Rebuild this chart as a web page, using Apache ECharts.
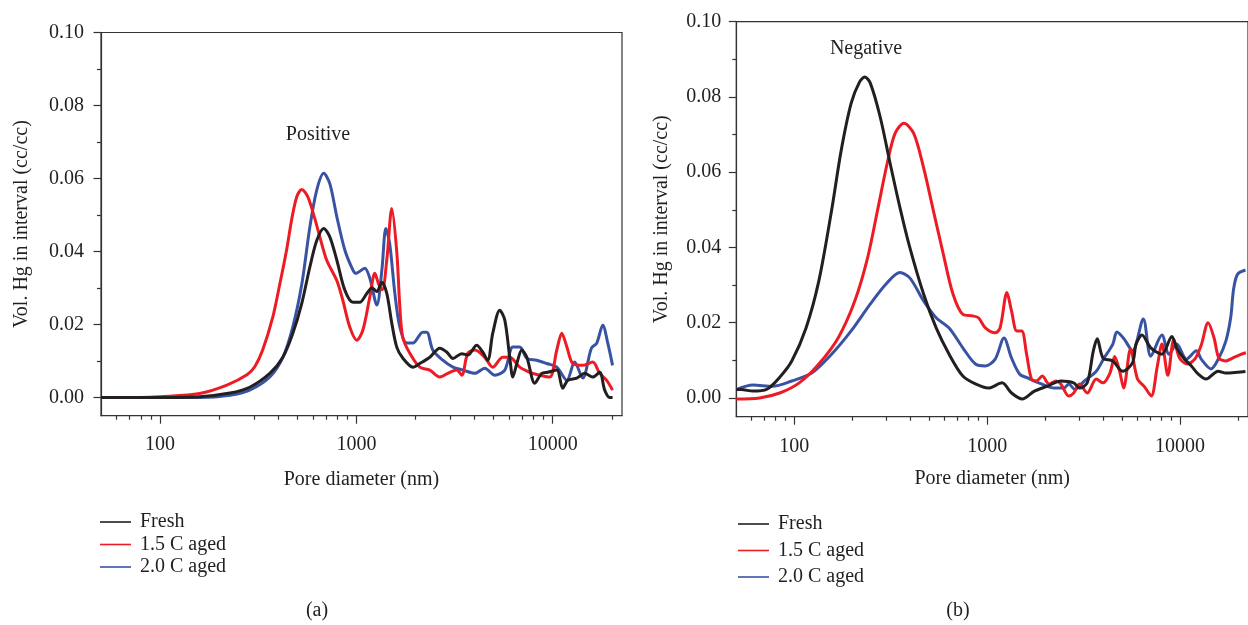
<!DOCTYPE html>
<html><head><meta charset="utf-8">
<script src="https://cdn.jsdelivr.net/npm/echarts@6/dist/echarts.min.js"></script>
<style>html,body{margin:0;padding:0;background:#fff}#c{width:1248px;height:625px}</style>
</head><body><div id="c"></div>
<script>
// ---------- data (pore diameter nm, Vol. Hg cc/cc) ----------
const seriesNames = ['Fresh', '1.5 C aged', '2.0 C aged'];

const freshPositive = [[50,0],[100,0],[159,0.0002],[227,0.0012],[286,0.0028],[362,0.0066],[422,0.011],[474,0.0175],[527,0.0258],[579,0.0357],[628,0.043],[682,0.0463],[732,0.044],[795,0.0376],[873,0.0294],[960,0.0261],[1040,0.0261],[1130,0.0285],[1199,0.030],[1271,0.029],[1348,0.0316],[1428,0.0285],[1515,0.0203],[1605,0.0138],[1722,0.0108],[1941,0.0083],[2103,0.0093],[2365,0.011],[2659,0.0135],[2892,0.0124],[3103,0.0107],[3441,0.012],[3691,0.0116],[4100,0.0143],[4402,0.0124],[4668,0.0102],[4950,0.0176],[5373,0.0239],[5700,0.0212],[6041,0.011],[6266,0.0056],[6565,0.0093],[6960,0.013],[7380,0.011],[8110,0.0039],[8796,0.0066],[9440,0.0069],[10490,0.0075],[11250,0.0025],[11930,0.0047],[13270,0.0053],[14560,0.0066],[15990,0.0056],[17350,0.0069],[18400,0.002],[19500,0],[20180,0]];

const aged15Positive = [[50,0],[79,0],[100,0.0002],[159,0.0011],[219,0.0034],[277,0.0062],[304,0.0085],[333,0.013],[375,0.022],[407,0.031],[441,0.0404],[469,0.049],[497,0.055],[527,0.057],[565,0.055],[614,0.049],[651,0.044],[706,0.0376],[795,0.032],[852,0.0267],[925,0.0193],[1005,0.0157],[1078,0.0184],[1170,0.0275],[1241,0.034],[1300,0.031],[1355,0.0295],[1430,0.038],[1515,0.0518],[1605,0.040],[1664,0.025],[1722,0.0165],[1871,0.0121],[2103,0.0083],[2365,0.0075],[2659,0.0056],[2990,0.0069],[3243,0.0075],[3441,0.0061],[3691,0.0121],[4008,0.013],[4505,0.011],[4950,0.0083],[5565,0.011],[6041,0.011],[6792,0.0083],[7637,0.0069],[8587,0.0061],[9655,0.0056],[10490,0.013],[11120,0.0176],[11800,0.0139],[12650,0.0093],[14220,0.0088],[15990,0.0097],[17350,0.0066],[18830,0.0047],[20180,0.002]];

const aged20Positive = [[50,0],[100,0],[159,0],[227,0.0006],[286,0.002],[362,0.0056],[422,0.011],[474,0.0193],[527,0.031],[579,0.0466],[628,0.0568],[682,0.0614],[732,0.0586],[795,0.0495],[873,0.0404],[960,0.0349],[994,0.034],[1103,0.0354],[1170,0.0327],[1271,0.0253],[1348,0.0349],[1413,0.0463],[1479,0.042],[1570,0.0285],[1664,0.0193],[1807,0.0149],[1941,0.0149],[2177,0.0179],[2283,0.0179],[2449,0.013],[2754,0.0102],[3103,0.0083],[3489,0.0075],[4008,0.0066],[4505,0.008],[5070,0.0061],[5700,0.0075],[6266,0.0138],[6792,0.0138],[7380,0.0107],[8300,0.0102],[9330,0.0093],[10490,0.0083],[11800,0.0047],[12930,0.0097],[14220,0.0053],[15740,0.0135],[16770,0.0149],[17990,0.0198],[19080,0.0149],[20180,0.0088]];

const freshNegative = [[50,0.0022],[53,0.0022],[61,0.0018],[72,0.0023],[84,0.0055],[97,0.0098],[115,0.0186],[134,0.0311],[156,0.0498],[175,0.0658],[197,0.0783],[218,0.084],[232,0.0853],[248,0.0836],[279,0.0746],[314,0.0623],[353,0.0506],[397,0.040],[468,0.0276],[544,0.0186],[635,0.0116],[748,0.0058],[870,0.0037],[1014,0.0026],[1195,0.004],[1338,0.0013],[1521,-0.0003],[1758,0.0018],[2049,0.0031],[2412,0.0045],[2811,0.004],[3016,0.0026],[3305,0.004],[3554,0.0125],[3724,0.0157],[3990,0.0106],[4487,0.0098],[5045,0.0071],[5673,0.0093],[5923,0.0143],[6353,0.0167],[7060,0.0133],[8065,0.0116],[9078,0.0163],[9617,0.0133],[10440,0.0106],[11465,0.0085],[12450,0.0063],[13680,0.005],[14850,0.0063],[15740,0.0071],[17300,0.0066],[19910,0.0068],[21870,0.007]];

const aged15Negative = [[50,-0.0003],[66,0],[84,0.0013],[106,0.004],[134,0.009],[169,0.016],[206,0.0258],[240,0.0373],[270,0.0498],[303,0.0623],[333,0.0703],[370,0.073],[416,0.0703],[468,0.0612],[526,0.0498],[592,0.0383],[665,0.0276],[748,0.0222],[841,0.0218],[902,0.0213],[979,0.0186],[1101,0.0173],[1167,0.0186],[1267,0.028],[1338,0.0231],[1425,0.0178],[1511,0.0178],[1602,0.0116],[1698,0.005],[1801,0.0045],[1932,0.0058],[2097,0.0037],[2276,0.0045],[2412,0.0037],[2650,0.0005],[2811,0.0013],[3016,0.0037],[3305,0.0013],[3681,0.005],[3990,0.004],[4335,0.0066],[4587,0.011],[4869,0.007],[5105,0.0026],[5543,0.013],[6022,0.005],[6537,0.003],[7097,0.0005],[7608,0.008],[8065,0.0143],[8656,0.006],[9290,0.0155],[9966,0.0105],[10940,0.009],[12020,0.0105],[12891,0.014],[14000,0.02],[15020,0.016],[15910,0.0106],[17300,0.0098],[18750,0.0106],[20580,0.0115],[21990,0.012]];

const aged20Negative = [[50,0.0022],[61,0.0034],[77,0.0031],[97,0.0045],[123,0.0066],[156,0.0116],[197,0.0178],[248,0.025],[303,0.0306],[353,0.0333],[397,0.0319],[468,0.0258],[544,0.0213],[635,0.0186],[748,0.0133],[870,0.009],[979,0.0085],[1101,0.0103],[1223,0.0159],[1338,0.0106],[1475,0.0063],[1621,0.0053],[1910,0.0037],[2223,0.0026],[2500,0.0026],[2651,0.0037],[2844,0.0023],[3198,0.0045],[3681,0.0071],[4042,0.0106],[4487,0.0143],[4708,0.0175],[5110,0.0158],[5675,0.0125],[6457,0.021],[7060,0.0111],[8065,0.0167],[8768,0.0116],[9617,0.0143],[10820,0.0103],[12160,0.0125],[12891,0.0103],[14495,0.0077],[15910,0.0106],[17300,0.0151],[18326,0.0213],[18990,0.029],[19910,0.0329],[21870,0.034]];

const xMajorTicks = [100, 1000, 10000];
const xMinorTicks = [60,70,80,90,200,300,400,500,600,700,800,900,2000,3000,4000,5000,6000,7000,8000,9000,20000];
const yMajorTicks = [0, 0.02, 0.04, 0.06, 0.08, 0.10];
const yMinorTicks = [0.01, 0.03, 0.05, 0.07, 0.09];

// ---------- styling ----------
const FONT = 'Liberation Serif';
const TXT = '#231f20';
const AX = '#333333';
const COLORS = ['#231f20', '#ed1c24', '#3953a4'];
const X_MIN = 50, X_MAX = 22540, Y_MIN = -0.005, Y_MAX = 0.10;

const grids = [
  { left: 101, top: 32.5, width: 521, height: 383.2 },
  { left: 736.3, top: 21.7, width: 521.5, height: 395 }
];

function xAxes(g, nameGap, labelMargin) {
  return [
    { type: 'log', logBase: 10, gridIndex: g, min: X_MIN, max: X_MAX, position: 'bottom',
      axisLine: { show: true, onZero: false, lineStyle: { color: AX, width: 1.2 } },
      axisTick: { show: true, inside: false, length: 8, customValues: xMajorTicks, lineStyle: { color: AX, width: 1.2 } },
      axisLabel: { customValues: xMajorTicks, margin: labelMargin, fontSize: 20, fontFamily: FONT, color: TXT,
        formatter: v => String(Math.round(v)) },
      splitLine: { show: false }, minorTick: { show: false },
      name: 'Pore diameter (nm)', nameLocation: 'middle', nameGap: nameGap,
      nameTextStyle: { fontSize: 20, fontFamily: FONT, color: TXT } },
    { type: 'log', logBase: 10, gridIndex: g, min: X_MIN, max: X_MAX, position: 'bottom',
      axisLine: { show: false, onZero: false },
      axisTick: { show: true, inside: false, length: 4, customValues: xMinorTicks, lineStyle: { color: AX, width: 1.2 } },
      axisLabel: { show: false }, splitLine: { show: false } }
  ];
}
function yAxes(g, nameGap, labelMargin) {
  return [
    { type: 'value', gridIndex: g, min: Y_MIN, max: Y_MAX, position: 'left',
      axisLine: { show: true, onZero: false, lineStyle: { color: AX, width: 1.2 } },
      axisTick: { show: true, inside: false, length: 7.5, customValues: yMajorTicks, lineStyle: { color: AX, width: 1.2 } },
      axisLabel: { customValues: yMajorTicks, margin: labelMargin, fontSize: 20, fontFamily: FONT, color: TXT,
        formatter: v => v.toFixed(2) },
      splitLine: { show: false },
      name: 'Vol. Hg in interval (cc/cc)', nameLocation: 'middle', nameGap: nameGap, nameRotate: 90,
      nameTextStyle: { fontSize: 20, fontFamily: FONT, color: TXT } },
    { type: 'value', gridIndex: g, min: Y_MIN, max: Y_MAX, position: 'left',
      axisLine: { show: false, onZero: false },
      axisTick: { show: true, inside: false, length: 4, customValues: yMinorTicks, lineStyle: { color: AX, width: 1.2 } },
      axisLabel: { show: false }, splitLine: { show: false } }
  ];
}

function lineSeries(name, data, idx, g) {
  return { type: 'line', name: name, data: data, xAxisIndex: g * 2, yAxisIndex: g * 2,
    showSymbol: false, symbol: 'none', smooth: 0.3,
    lineStyle: { color: COLORS[idx], width: 3 }, itemStyle: { color: COLORS[idx] },
    emphasis: { disabled: true }, z: 3 - idx + 2 };
}

const legendCommon = {
  orient: 'vertical', icon: 'rect', itemWidth: 31, itemHeight: 1.6, data: seriesNames,
  textStyle: { fontSize: 20, fontFamily: FONT, color: TXT, padding: [0, 0, 0, 4] },
  selectedMode: false
};

const option = {
  animation: false,
  backgroundColor: '#fff',
  grid: grids.map(g => Object.assign({ show: true, borderColor: AX, borderWidth: 1.2, backgroundColor: 'transparent', containLabel: false }, g)),
  xAxis: [].concat(xAxes(0, 54, 19), xAxes(1, 52, 20)),
  yAxis: [].concat(yAxes(0, 69, 17), yAxes(1, 65, 15)),
  legend: [
    Object.assign({}, legendCommon, { left: 95, top: 507, itemGap: 2.5 }),
    Object.assign({}, legendCommon, { left: 733, top: 509, itemGap: 6.5 })
  ],
  series: [
    lineSeries(seriesNames[1], aged15Positive, 1, 0),
    lineSeries(seriesNames[0], freshPositive, 0, 0),
    lineSeries(seriesNames[2], aged20Positive, 2, 0),
    lineSeries(seriesNames[1], aged15Negative, 1, 1),
    lineSeries(seriesNames[0], freshNegative, 0, 1),
    lineSeries(seriesNames[2], aged20Negative, 2, 1)
  ],
  graphic: [
    { type: 'text', x: 318, y: 135, style: { text: 'Positive', font: '20px "Liberation Serif"', fill: TXT, align: 'center', verticalAlign: 'middle' } },
    { type: 'text', x: 866, y: 49, style: { text: 'Negative', font: '20px "Liberation Serif"', fill: TXT, align: 'center', verticalAlign: 'middle' } },
    { type: 'text', x: 317, y: 611, style: { text: '(a)', font: '20px "Liberation Serif"', fill: TXT, align: 'center', verticalAlign: 'middle' } },
    { type: 'text', x: 958, y: 611, style: { text: '(b)', font: '20px "Liberation Serif"', fill: TXT, align: 'center', verticalAlign: 'middle' } }
  ]
};

const chart = echarts.init(document.getElementById('c'), null, { renderer: 'canvas' });
chart.setOption(option);
</script>
</body></html>
